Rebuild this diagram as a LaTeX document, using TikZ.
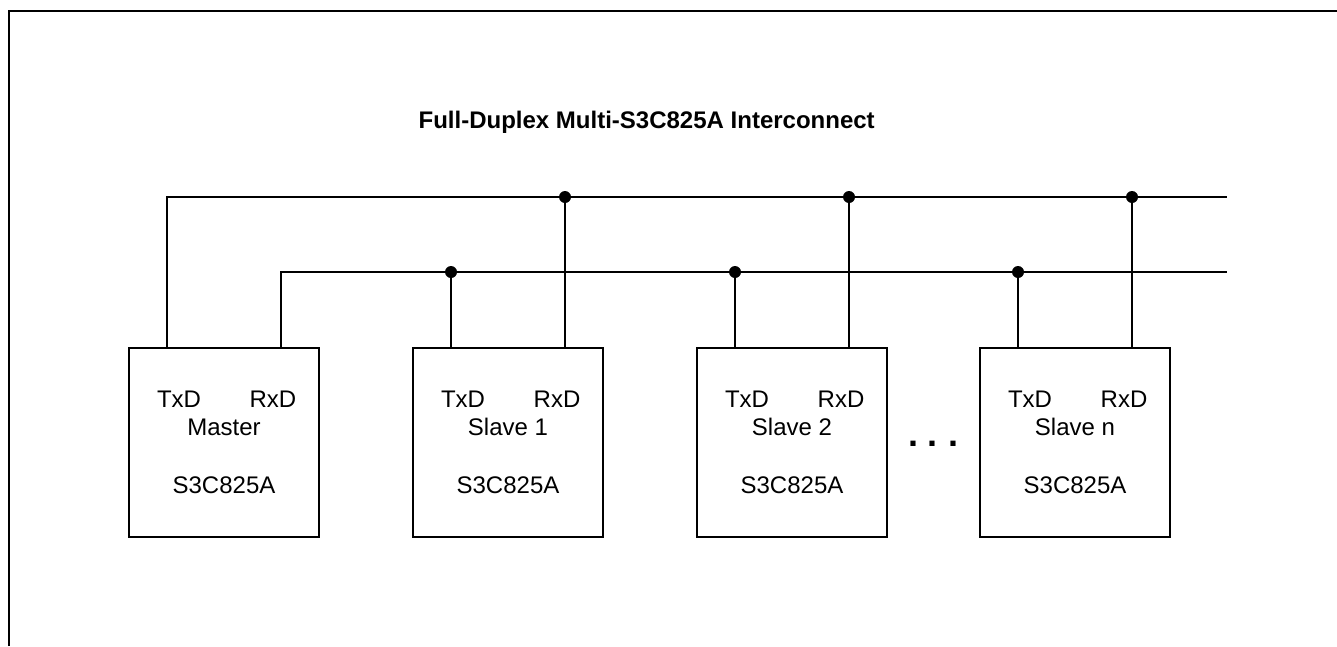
\documentclass[tikz,border=0pt]{standalone}
\usepackage{fontspec}
\setmainfont{Liberation Sans}
\usetikzlibrary{positioning}

\begin{document}
\begin{tikzpicture}[x=1pt,y=-1pt,line width=1.3pt,
  chip/.style={draw,minimum width=190pt,minimum height=189pt,inner sep=0pt},
  pin/.style={font=\fontsize{24}{28}\selectfont,anchor=base,inner sep=0pt},
  tap/.style={circle,fill,inner sep=0pt,minimum size=12pt}]
\useasboundingbox (0,0) rectangle (1337,646);
\draw[line width=2pt] (9,646) -- (9,11) -- (1337,11);
\node[font=\bfseries\fontsize{24}{28}\selectfont,anchor=base west,inner sep=0pt] (title) at (418,128) {Full-Duplex Multi-S3C825A Interconnect};
\coordinate (tend) at (1227,197);
\coordinate (rend) at (1227,272);
\foreach \x/\name/\lbl in {129/m/Master,413/s1/Slave 1,697/s2/Slave 2,980/sn/Slave n}{
  \node[chip] (\name) at (\x+95,442.5) {};
  \node[pin] (\name-txd) at (\x+50,407) {TxD};
  \node[pin] (\name-rxd) at (\x+144,407) {RxD};
  \node[pin] (\name-lbl) at (\x+95,435) {\lbl};
  \node[pin] (\name-ic) at (\x+95,493) {S3C825A};
  \coordinate (\name-a) at (\x+38,348);
  \coordinate (\name-b) at (\x+152,348);
}
\draw (m-a) |- (tend);
\draw (m-b) |- (rend);
\foreach \name in {s1,s2,sn}{
  \draw (\name-a) -- (\name-a |- rend) node[tap] (\name-ta) {};
  \draw (\name-b) -- (\name-b |- tend) node[tap] (\name-tb) {};
}
\node[font=\bfseries\fontsize{36}{40}\selectfont,anchor=base,inner sep=0pt] (more) at (933,446) {.\ .\ .};
\end{tikzpicture}
\end{document}
